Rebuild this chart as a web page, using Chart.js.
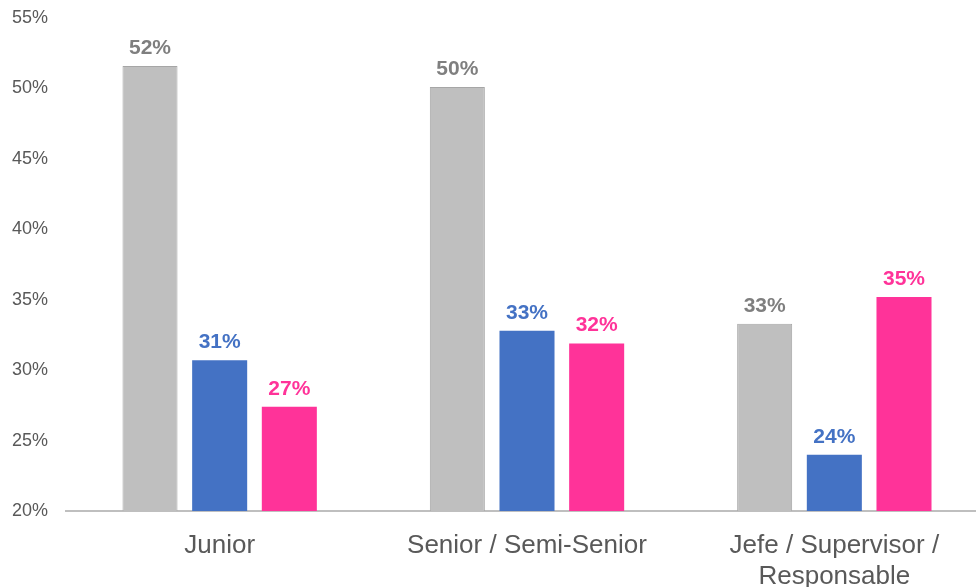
<!DOCTYPE html>
<html lang="es">
<head>
    <meta charset="UTF-8">
    <title>Cargo</title>
    <script src="https://cdn.jsdelivr.net/npm/chart.js"></script>
    <style>
        body {
            margin: 0;
            padding: 0;
            background: #ffffff;
            overflow: hidden;
        }
        /* a bit wider than the window: the last group runs slightly past the edge */
        #wrap {
            width: 988px;
            height: 587px;
        }
    </style>
</head>
<body>
    <div id="wrap"><canvas id="chart"></canvas></div>

    <script>
        // categories on the x axis
        const categories = ['Junior', 'Senior / Semi-Senior', ['Jefe / Supervisor /', 'Responsable']];
        // three series, values in %
        const serieGris = [51.6, 50.1, 33.3];
        const serieAzul = [30.7, 32.8, 24.0];
        const serieRosa = [27.4, 31.9, 35.2];
        // y axis range
        const yMin = 20;
        const yMax = 55;
        const yStep = 5;

        const colors = {
            gris: '#bfbfbf',
            grisBorde: '#a6a6a6',
            grisTexto: '#7f7f7f',
            azul: '#4472c4',
            rosa: '#ff3399'
        };

        const fontFamily = 'Arial, "Liberation Sans", sans-serif';

        // draws the value above every bar (no datalabels plugin offline)
        const valueLabels = {
            id: 'valueLabels',
            afterDatasetsDraw(chart) {
                const ctx = chart.ctx;
                ctx.save();
                ctx.font = 'bold 21px ' + fontFamily;
                ctx.textAlign = 'center';
                ctx.textBaseline = 'alphabetic';
                chart.data.datasets.forEach((ds, i) => {
                    const meta = chart.getDatasetMeta(i);
                    ctx.fillStyle = ds.labelColor;
                    meta.data.forEach((bar, j) => {
                        ctx.fillText(Math.round(ds.data[j]) + '%', bar.x, bar.y - 12);
                    });
                });
                ctx.restore();
            }
        };

        const ctx = document.getElementById('chart').getContext('2d');
        new Chart(ctx, {
            type: 'bar',
            data: {
                labels: categories,
                datasets: [
                    {
                        label: 'Serie 1',
                        data: serieGris,
                        backgroundColor: colors.gris,
                        borderColor: colors.grisBorde,
                        borderWidth: 1,
                        labelColor: colors.grisTexto
                    },
                    {
                        label: 'Serie 2',
                        data: serieAzul,
                        backgroundColor: colors.azul,
                        labelColor: colors.azul
                    },
                    {
                        label: 'Serie 3',
                        data: serieRosa,
                        backgroundColor: colors.rosa,
                        labelColor: colors.rosa
                    }
                ]
            },
            plugins: [valueLabels],
            options: {
                responsive: true,
                maintainAspectRatio: false,
                animation: false,
                datasets: {
                    bar: {
                        categoryPercentage: 0.68,
                        barPercentage: 0.79
                    }
                },
                layout: {
                    padding: { top: 18, left: 8, right: 0, bottom: 0 }
                },
                plugins: {
                    legend: { display: false },
                    tooltip: { enabled: false }
                },
                scales: {
                    y: {
                        min: yMin,
                        max: yMax,
                        border: { display: false },
                        grid: { display: false },
                        ticks: {
                            stepSize: yStep,
                            color: '#595959',
                            padding: 10,
                            font: { size: 18, family: fontFamily },
                            callback: v => v + '%'
                        },
                        afterFit(scale) {
                            scale.width = 58;
                            scale.paddingTop = 0;
                            scale.paddingBottom = 0;
                        }
                    },
                    x: {
                        border: { display: true, color: '#bfbfbf', width: 2 },
                        grid: { display: false },
                        ticks: {
                            color: '#595959',
                            padding: 11,
                            maxRotation: 0,
                            font: { size: 26, family: fontFamily, lineHeight: 1.2 }
                        },
                        afterFit(scale) {
                            scale.height = 76;
                        }
                    }
                }
            }
        });
    </script>
</body>
</html>
